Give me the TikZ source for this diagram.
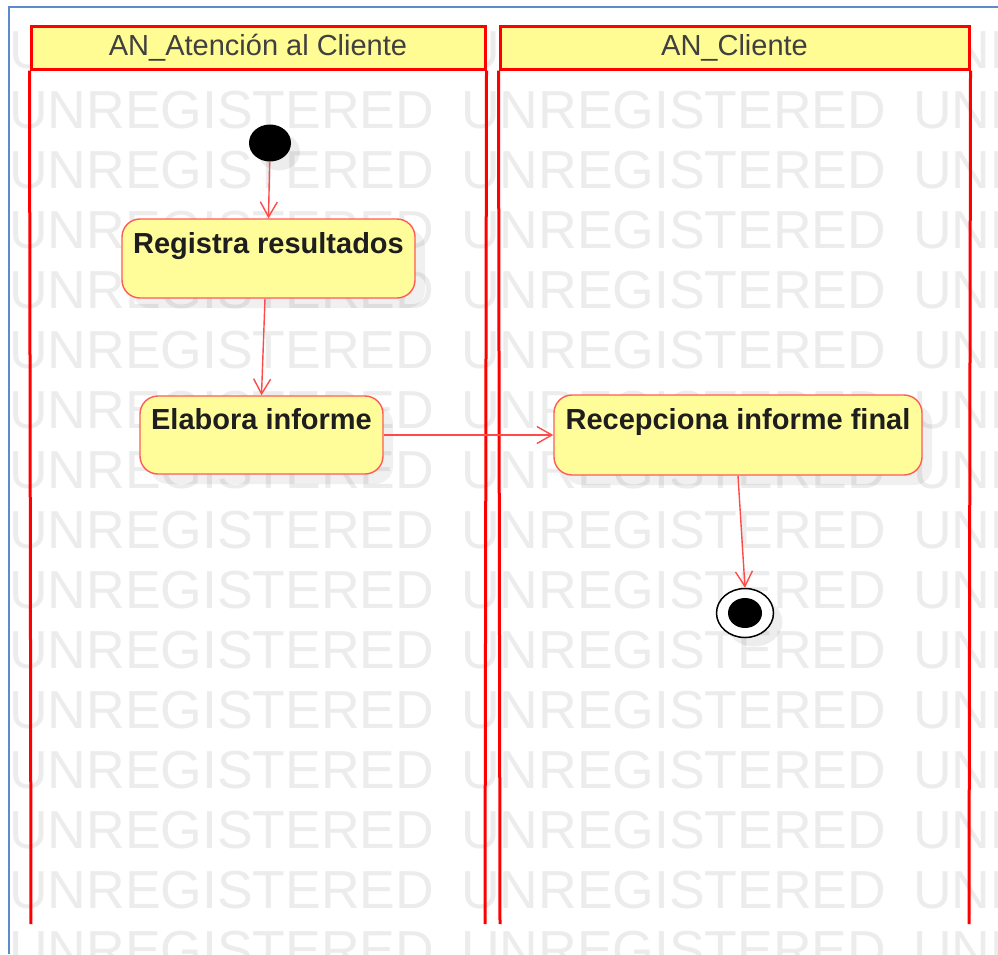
\documentclass[tikz,border=0pt]{standalone}
\usepackage{fontspec}
\setmainfont{Liberation Sans}
\usetikzlibrary{arrows.meta,shapes.geometric,shadows}
\definecolor{wmgray}{HTML}{ECECEC}
\definecolor{laneRed}{HTML}{FF0000}
\definecolor{nodeRed}{HTML}{FF5A5A}
\definecolor{flowRed}{HTML}{FF4A4A}
\definecolor{nodeFill}{HTML}{FFFD99}
\definecolor{headFill}{HTML}{FFFC93}
\definecolor{frameBlue}{HTML}{5B8BC9}
\definecolor{txt}{HTML}{1E1E1E}
\tikzset{
  wm/.style={font=\fontsize{53.5}{60}\selectfont, text=wmgray, inner sep=0pt, anchor=base west},
  laneh/.style={draw=laneRed, line width=3pt, fill=headFill, inner sep=0pt,
    font=\fontsize{29}{32}\selectfont, text=txt!85!white, text height=21pt, text depth=5pt},
  laneline/.style={draw=laneRed, line width=3pt},
  act/.style={draw=nodeRed, line width=1.4pt, fill=nodeFill, rounded corners=18pt, inner sep=0pt,
    font=\bfseries\fontsize{29}{32}\selectfont, text=txt, text height=21pt, text depth=32pt,
    drop shadow={shadow xshift=10pt, shadow yshift=-10pt, fill=black, opacity=0.06}},
  startst/.style={ellipse, fill=black, inner sep=0pt, minimum width=42pt, minimum height=37pt,
    drop shadow={shadow xshift=9pt, shadow yshift=-9pt, fill=black, opacity=0.07}},
  finalst/.style={ellipse, draw=black, line width=1.5pt, fill=white, inner sep=0pt, minimum width=57pt, minimum height=49pt,
    drop shadow={shadow xshift=9pt, shadow yshift=-9pt, fill=black, opacity=0.07}},
  finalin/.style={ellipse, fill=black, inner sep=0pt, minimum width=34pt, minimum height=30pt},
  flow/.style={draw=flowRed, line width=1.4pt, -{Straight Barb[length=15pt,width=17pt,line width=1.4pt]}},
}
\begin{document}
\begin{tikzpicture}[x=1pt,y=-1pt]
\useasboundingbox (0,0) rectangle (998,954);
\fill[white] (0,0) rectangle (998,954);
% watermark
\foreach \r in {0,...,15}{
  \foreach \c in {0,1,2}{
    \node[wm] (wm-\r-\c) at ({9+452*\c},{68+60*\r}) {UNREGISTERED};
  }
}
% frame
\draw[frameBlue, line width=1.5pt] (9,954) -- (9,7) -- (998,7);
% lanes
\node[laneh, minimum width=454pt, minimum height=43pt] (h1) at (258,47.5) {AN\_Atención al Cliente};
\node[laneh, minimum width=469pt, minimum height=43pt] (h2) at (734.5,47.5) {AN\_Cliente};
\coordinate (l1a) at (31,924);
\coordinate (l1b) at (485,924);
\coordinate (l2a) at (500,924);
\coordinate (l2b) at (969,924);
\draw[laneline] (h1.south west) -- (l1a);
\draw[laneline] (h1.south east) -- (l1b);
\draw[laneline] (h2.south west) -- (l2a);
\draw[laneline] (h2.south east) -- (l2b);
% nodes
\node[startst] (start) at (270,143) {};
\node[act, minimum width=293pt, minimum height=79pt] (reg) at (268.5,258.5) {Registra resultados};
\node[act, minimum width=243pt, minimum height=78pt] (ela) at (261.5,435) {Elabora informe};
\node[act, minimum width=368pt, minimum height=80pt] (rec) at (738,435) {Recepciona informe final};
\node[finalst] (final) at (745,613) {};
\node[finalin] (finin) at (745,613) {};
% flows
\draw[flow] (start) -- (reg.north);
\draw[flow] ([xshift=-3.5pt]reg.south) -- (ela.north);
\draw[flow] (ela.east) -- (rec.west);
\draw[flow] (rec.south) -- (final.north);
\end{tikzpicture}
\end{document}
